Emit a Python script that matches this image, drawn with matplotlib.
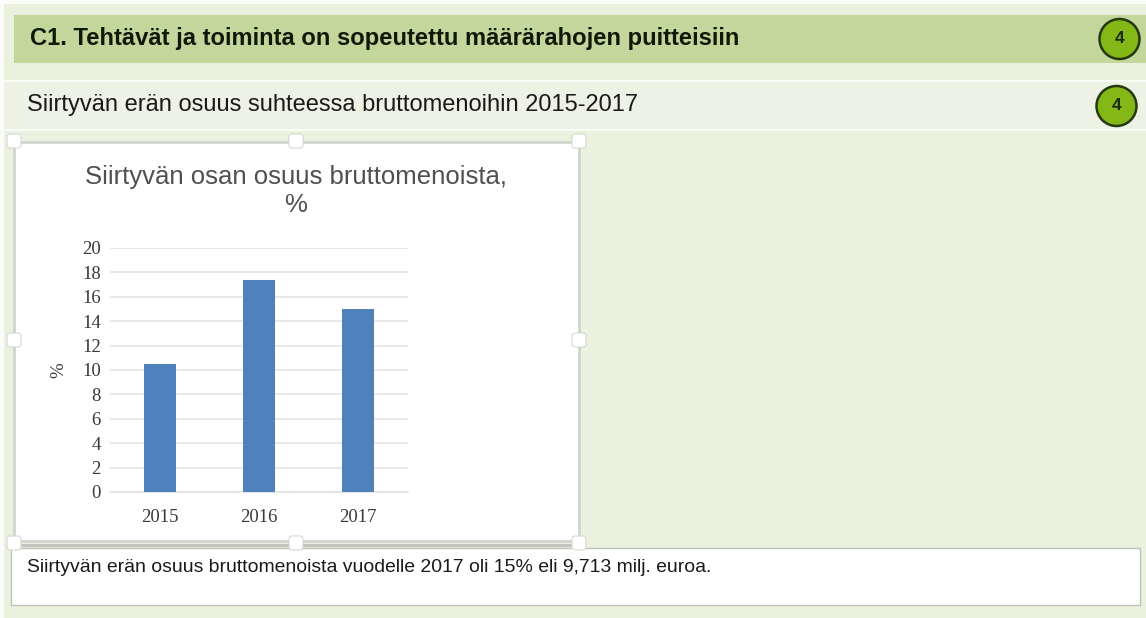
import matplotlib
matplotlib.use('Agg')
import matplotlib.pyplot as plt
from matplotlib.patches import Rectangle, Circle, FancyBboxPatch

W = 1146
H = 618

years = ['2015', '2016', '2017']
shares = [10.5, 17.4, 15.0]
y_ticks = [0, 2, 4, 6, 8, 10, 12, 14, 16, 18, 20]
header_text = 'C1. Tehtävät ja toiminta on sopeutettu määrärahojen puitteisiin'
sub_text = 'Siirtyvän erän osuus suhteessa bruttomenoihin 2015-2017'
chart_title = 'Siirtyvän osan osuus bruttomenoista,\n%'
note_text = 'Siirtyvän erän osuus bruttomenoista vuodelle 2017 oli 15% eli 9,713 milj. euroa.'
score = '4'

plt.rcParams['font.family'] = ['Liberation Sans', 'DejaVu Sans']
serif = ['Liberation Serif', 'DejaVu Serif']

fig = plt.figure(figsize=(W / 100, H / 100), dpi=100, facecolor='#fbfcf9')

# page drawn in pixel coordinates, y going down
bg = fig.add_axes([0, 0, 1, 1])
bg.set_xlim(0, W)
bg.set_ylim(H, 0)
bg.axis('off')


def box(x0, y0, x1, y1, fc, ec='none', lw=0, z=1):
    bg.add_patch(Rectangle((x0, y0), x1 - x0, y1 - y0, fc=fc, ec=ec, lw=lw, zorder=z))


def badge(x, y):
    bg.add_patch(Circle((x, y), 20, fc='#84b816', ec='#26380f', lw=1.8, zorder=3))
    bg.text(x, y - 0.5, score, ha='center', va='center', fontsize=12.5, fontweight='bold',
            color='#1c2a10', zorder=4)


def handle(x, y):
    bg.add_patch(FancyBboxPatch((x - 5, y - 5), 10, 10, boxstyle='round,pad=2,rounding_size=3',
                                fc='white', ec='#d6d8d2', lw=0.8, zorder=5))


box(4, 4, W, 618, '#ebf1df')
box(14, 15, W, 63, '#c3d69b')
box(4, 81, W, 129, '#edf2e4')
bg.plot([4, W], [81, 81], color='#f8faf4', lw=1.5, zorder=2)
bg.plot([4, W], [129.5, 129.5], color='#f8faf4', lw=1.5, zorder=2)

bg.text(30, 38, header_text, ha='left', va='center', fontsize=17.07, fontweight='bold',
        color='#101808', zorder=3)
bg.text(27, 105, sub_text, ha='left', va='center', fontsize=17, color='#1a1a1a', zorder=3)
badge(1119.5, 39)
badge(1116.5, 106)

# note box under the chart
box(11, 548, 1140, 605, 'white', ec='#c0c4b8', lw=1)
bg.text(27, 567, note_text, ha='left', va='center', fontsize=13.95, color='#1a1a1a', zorder=3)

# chart frame and its selection handles
box(14, 142, 579, 541, 'white', ec='#d2d4ce', lw=2)
bg.plot([14, 579], [544.5, 544.5], color='#bfc1ba', lw=2, zorder=2)
for hx in (14, 296, 579):
    handle(hx, 141)
    handle(hx, 543)
handle(14, 340)
handle(579, 340)

bg.text(296, 191, chart_title, ha='center', va='center', fontsize=18.5, color='#505050',
        linespacing=1.22, zorder=3)

ax = fig.add_axes([110 / W, 1 - 492 / H, 298 / W, 244 / H], facecolor='none')
ax.bar(years, shares, width=0.32, color='#4f81bd', zorder=3)
ax.set_xlim(-0.5, 2.5)
ax.set_ylim(0, 20)
ax.set_yticks(y_ticks)
ax.grid(axis='y', color='#e2e2e2', lw=1.1, zorder=0)
ax.tick_params(length=0)
ax.tick_params(axis='x', pad=12)
ax.tick_params(axis='y', pad=6.5)
for lab in ax.get_xticklabels() + ax.get_yticklabels():
    lab.set_fontfamily(serif)
    lab.set_fontsize(13.5)
    lab.set_color('#3a3a3a')
for side in ax.spines:
    ax.spines[side].set_visible(False)
ax.spines['bottom'].set_visible(True)
ax.spines['bottom'].set_color('#e2e2e2')
ax.spines['bottom'].set_linewidth(1.1)
ax.set_ylabel('%', fontsize=13.5, color='#3a3a3a', fontfamily=serif, labelpad=11)

fig.savefig('out.png', dpi=100)
